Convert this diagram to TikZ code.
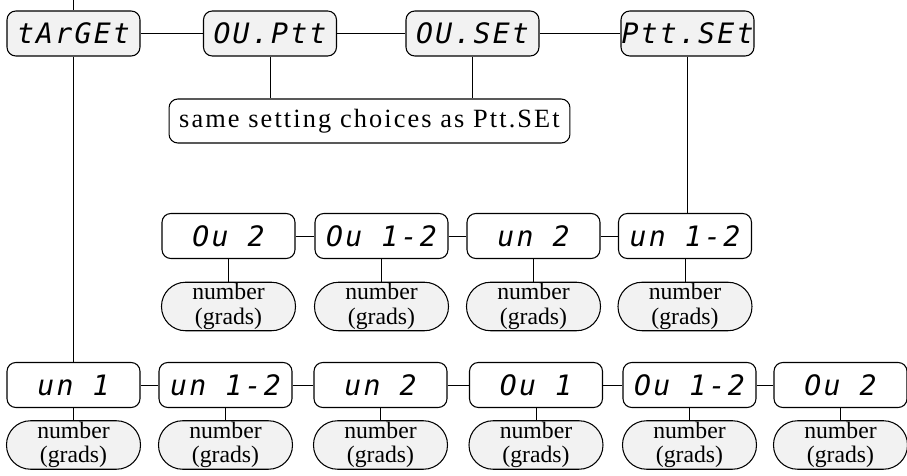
\documentclass[tikz,border=0pt]{standalone}
\usepackage{fontspec}
\setmainfont{Liberation Serif}
\newfontfamily\segfont[LetterSpace=8]{DejaVu Sans Mono}
\newfontfamily\spacedfont[LetterSpace=8]{Liberation Serif}
\definecolor{panel}{gray}{0.95}

\begin{document}
\begin{tikzpicture}[x=0.02cm, y=-0.02cm,
				every node/.style={draw, line width=0.6pt, rounded corners=5pt, inner sep=0pt},
				display/.style={minimum width=2.66cm, minimum height=0.9cm, font=\segfont\itshape\fontsize{16}{16}\selectfont},
				topdisp/.style={display, fill=panel},
				value/.style={minimum width=2.68cm, minimum height=0.97cm, rounded corners=0.48cm, fill=panel, align=center, font=\fontsize{13.5}{14}\selectfont}
			]
			\useasboundingbox (0,0) rectangle (907,476);
			% top menu
			\node[topdisp] (target) at (73.5,33.5) {tArGEt};
			\node[topdisp] (oupt) at (270,33.5) {OU.Ptt};
			\node[topdisp] (ouset) at (472.5,33.5) {OU.SEt};
			\node[topdisp] (pttset) at (687.5,33.5) {Ptt.SEt};
			\node[minimum width=8.02cm, minimum height=0.88cm, font=\spacedfont\fontsize{15}{15}\selectfont] (same) at (369.5,121) {same setting choices as Ptt.SEt};
			\coordinate (entry) at (73.5,0);
			\draw (entry) -- (target);
			\draw (target) -- (oupt) -- (ouset) -- (pttset);
			\draw (oupt) -- (oupt |- same.north);
			\draw (ouset) -- (ouset |- same.north);
			% Ptt.SEt choices
			\foreach \name/\x/\txt in {mou2/228.5/Ou 2, mou12/381.5/Ou 1-2, mun2/533.5/un 2, mun12/685/un 1-2}{
				\node[display] (\name) at (\x,236) {\txt};
				\node[value] (\name v) at (\x,306.5) {number\\(grads)};
				\draw (\name) -- (\name v);
			}
			\draw (mou2) -- (mou12) -- (mun2) -- (mun12);
			\draw (pttset) -- (pttset |- mun12.north);
			% tArGEt choices
			\foreach \name/\x/\txt in {bun1/73.5/un 1, bun12/225.5/un 1-2, bun2/380.5/un 2, bou1/536/Ou 1, bou12/689.5/Ou 1-2, bou2/840.5/Ou 2}{
				\node[display] (\name) at (\x,385) {\txt};
				\node[value] (\name v) at (\x,445) {number\\(grads)};
				\draw (\name) -- (\name v);
			}
			\draw (bun1) -- (bun12) -- (bun2) -- (bou1) -- (bou12) -- (bou2);
			\draw (target) -- (bun1);
		\end{tikzpicture}
\end{document}
